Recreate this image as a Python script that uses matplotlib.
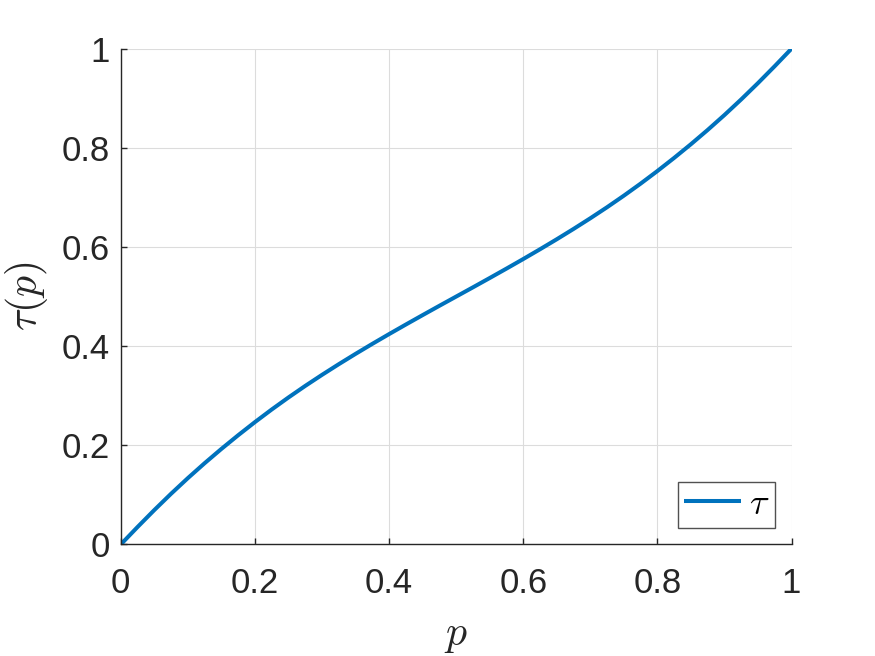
import matplotlib
matplotlib.use("Agg")
import matplotlib.pyplot as plt

p_vals = [0.0, 0.025, 0.05, 0.075, 0.1, 0.125, 0.15, 0.175, 0.2, 0.225, 0.25,
          0.275, 0.3, 0.325, 0.35, 0.375, 0.4, 0.425, 0.45, 0.475, 0.5,
          0.525, 0.55, 0.575, 0.6, 0.625, 0.65, 0.675, 0.7, 0.725, 0.75,
          0.775, 0.8, 0.825, 0.85, 0.875, 0.9, 0.925, 0.95, 0.975, 1.0]
tau_vals = [0.0, 0.0352, 0.0694, 0.1023, 0.1338, 0.1639, 0.1927, 0.2203, 0.2468,
            0.2722, 0.2965, 0.3198, 0.3421, 0.3636, 0.3844, 0.4046, 0.4243,
            0.4436, 0.4626, 0.4814, 0.5000,
            0.5186, 0.5374, 0.5564, 0.5757, 0.5954, 0.6156, 0.6364, 0.6579,
            0.6802, 0.7035, 0.7278, 0.7532, 0.7797, 0.8073, 0.8361, 0.8662,
            0.8977, 0.9306, 0.9648, 1.0]
tick_vals = [0, 0.2, 0.4, 0.6, 0.8, 1]
tick_labels = ["0", "0.2", "0.4", "0.6", "0.8", "1"]

plt.rcParams['mathtext.fontset'] = 'cm'
plt.rcParams['font.family'] = ['Liberation Sans', 'DejaVu Sans']

fig = plt.figure(figsize=(8.75, 6.56), dpi=100)
ax = fig.add_axes([0.138, 0.170, 0.7666, 0.7558])

ax.plot(p_vals, tau_vals, color='#0072BD', linewidth=2.9, label=r'$\tau$',
        solid_capstyle='butt', solid_joinstyle='round')

ax.set_xlim(0, 1)
ax.set_ylim(0, 1)
ax.set_xticks(tick_vals)
ax.set_xticklabels(tick_labels)
ax.set_yticks(tick_vals)
ax.set_yticklabels(tick_labels)

dark = '#262626'
for s in ['top', 'right']:
    ax.spines[s].set_visible(False)
for s in ['left', 'bottom']:
    ax.spines[s].set_color(dark)
    ax.spines[s].set_linewidth(1.0)

ax.tick_params(direction='in', length=4, width=1.0, colors=dark,
               labelsize=25)
ax.tick_params(axis='x', pad=16)
ax.tick_params(axis='y', pad=8)
ax.grid(True, color='#dcdcdc', linewidth=0.8)
ax.set_axisbelow(True)

ax.set_xlabel(r'$p$', fontsize=30, color=dark, labelpad=11)
ax.set_ylabel(r'$\tau(p)$', fontsize=30, color=dark, labelpad=8)

leg = ax.legend(loc='lower right', fontsize=26, handlelength=1.6,
                handletextpad=0.2, borderpad=0.15, borderaxespad=0.47,
                frameon=True, fancybox=False)
leg.get_frame().set_edgecolor(dark)
leg.get_frame().set_linewidth(1.0)

fig.savefig('out.png', dpi=100)
